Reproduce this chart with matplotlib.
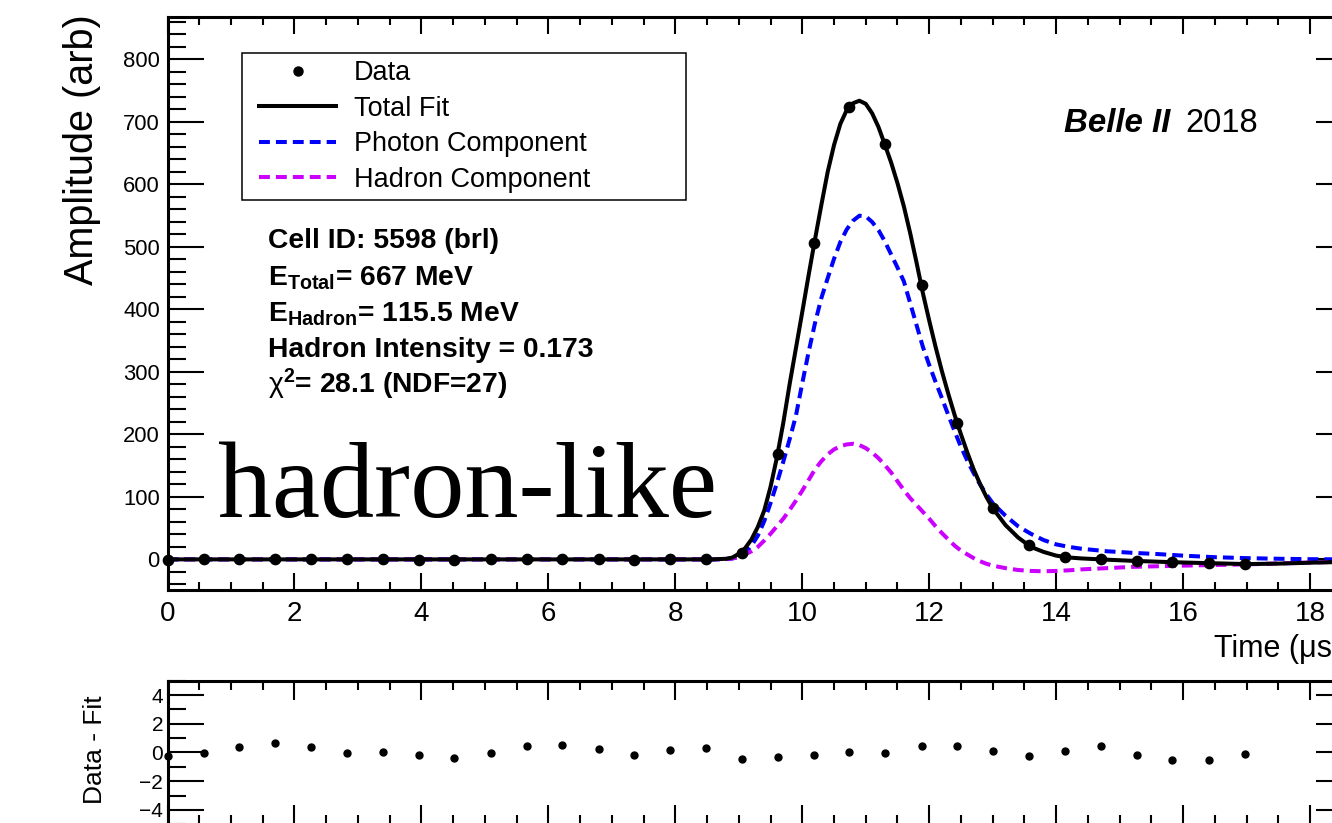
import matplotlib
matplotlib.use("Agg")
import matplotlib.pyplot as plt
from matplotlib.lines import Line2D
from matplotlib.legend_handler import HandlerLine2D
from matplotlib.ticker import MultipleLocator

# ---- waveform samples (time in microseconds, amplitude in arb. units) ----
sample_time = [0.00, 0.57, 1.13, 1.70, 2.26, 2.83, 3.39, 3.96, 4.52, 5.09,
               5.66, 6.22, 6.79, 7.35, 7.92, 8.48, 9.05, 9.61, 10.18, 10.74,
               11.31, 11.88, 12.44, 13.01, 13.57, 14.14, 14.70, 15.27, 15.83,
               16.40, 16.97]
sample_amp = [-0.3, -0.1, 0.4, 0.7, 0.4, 0.0, 0.0, -0.2, -0.4, 0.0,
              0.5, 0.5, 0.2, -0.2, 0.2, 0.3, 11.0, 168.0, 506.0, 724.0,
              664.0, 439.0, 218.0, 82.0, 23.0, 4.0, 0.0, -2.7, -4.8,
              -6.4, -7.5]
residual = [-0.28, -0.07, 0.35, 0.65, 0.35, -0.02, 0.02, -0.21, -0.40, -0.02,
            0.47, 0.54, 0.23, -0.21, 0.19, 0.28, -0.44, -0.35, -0.16, 0.00,
            -0.07, 0.47, 0.47, 0.07, -0.26, 0.12, 0.47, -0.16, -0.51, -0.51,
            -0.12]

# ---- fitted pulse shapes ----
fit_time = [0.0, 8.6, 8.8, 8.9, 9.0, 9.1, 9.2, 9.3, 9.4, 9.5, 9.6, 9.7, 9.8,
            9.9, 10.0, 10.1, 10.2, 10.3, 10.4, 10.5, 10.6, 10.7, 10.8, 10.9,
            11.0, 11.1, 11.2, 11.3, 11.4, 11.5, 11.6, 11.7, 11.8, 11.9, 12.0,
            12.1, 12.2, 12.3, 12.4, 12.5, 12.6, 12.7, 12.8, 12.9, 13.0, 13.2,
            13.4, 13.6, 13.8, 14.0, 14.2, 14.4, 14.6, 14.8, 15.2, 15.6, 16.0,
            16.5, 17.0, 17.5, 18.0, 18.66]
fit_total = [0, 0, 1, 3, 9, 18, 32, 52, 78, 116, 163, 218, 280,
             338, 396, 455, 512, 567, 620, 663, 697, 719, 730, 734,
             729, 714, 692, 664, 635, 602, 565, 522, 475, 426, 382,
             340, 301, 265, 231, 200, 171, 144, 121, 100, 82, 55,
             35, 20, 12, 6, 3, 1.5, 0.5, -0.5, -2.3, -3.7, -5.0,
             -6.3, -7.5, -6.8, -5.3, -3.8]
fit_photon = [0, 0, 0.5, 1.5, 4, 10, 22, 38, 61, 90, 122, 156, 192,
              230, 282, 332, 378, 418, 450, 481, 508, 528, 542, 550,
              549, 540, 527, 509, 488, 467, 445, 410, 375, 340, 311,
              284, 258, 231, 205, 180, 158, 138, 120, 104, 90, 70,
              53, 41, 31, 24, 20, 17, 15, 13, 10.5, 8.5, 6.0,
              3.5, 2.0, 1.0, 0.3, 0.0]
fit_hadron = [0, 0, 0.5, 1.5, 4, 8, 13, 20, 30, 41, 53, 65, 79,
              94, 110, 127, 144, 157, 168, 176, 181, 184, 185, 183,
              178, 171, 162, 151, 139, 125, 111, 98, 87, 76, 65,
              53, 42, 32, 22, 14, 8, 2, -3, -7, -10, -14,
              -17, -18.5, -19, -18.5, -17.5, -16, -15, -14, -12, -11, -10,
              -9, -8, -6.5, -5, -3.5]

x_range = (0.0, 18.66)
amp_range = (-49, 868)
res_range = (-5, 5)

info_lines = ["Cell ID: 5598 (brl)",
              r"$\mathbf{E_{Total}}$= 667 MeV",
              r"$\mathbf{E_{Hadron}}$= 115.5 MeV",
              "Hadron Intensity = 0.173",
              r"$\mathrm{\chi}^{\mathbf{2}}$= 28.1 (NDF=27)"]

# ---- style ----
plt.rcParams["font.family"] = ["Liberation Sans", "DejaVu Sans"]
plt.rcParams["mathtext.fontset"] = "custom"
plt.rcParams["mathtext.rm"] = "Liberation Sans"
plt.rcParams["mathtext.bf"] = "Liberation Sans:bold"
plt.rcParams["mathtext.it"] = "Liberation Sans:italic"

W, H = 1332, 823
fig = plt.figure(figsize=(W / 100, H / 100), dpi=100)


def fx(px):
    return px / W


def fy(py):
    return 1 - py / H


LEFT, RIGHT = 167.5, 1352.0
ax = fig.add_axes([fx(LEFT), fy(590), fx(RIGHT) - fx(LEFT), fy(17) - fy(590)])
rax = fig.add_axes([fx(LEFT), fy(824.2), fx(RIGHT) - fx(LEFT), fy(680.7) - fy(824.2)])

LW = 2.9
dash = (0, (2.7, 1.5))

ax.plot(fit_time, fit_photon, color="#0000ff", lw=LW, linestyle=dash, zorder=2)
ax.plot(fit_time, fit_hadron, color="#cc00ff", lw=LW, linestyle=dash, zorder=2)
ax.plot(fit_time, fit_total, color="black", lw=LW, zorder=3)
ax.plot(sample_time, sample_amp, "o", color="black", ms=7.4, zorder=4,
        clip_on=False)

ax.set_xlim(*x_range)
ax.set_ylim(*amp_range)

for a in (ax, rax):
    for s in a.spines.values():
        s.set_linewidth(2.2)
    a.xaxis.set_major_locator(MultipleLocator(2))
    a.xaxis.set_minor_locator(MultipleLocator(0.5))

ax.yaxis.set_major_locator(MultipleLocator(100))
ax.yaxis.set_minor_locator(MultipleLocator(20))
ax.tick_params(axis="x", which="major", direction="in", length=12, width=1.5,
               top=True, labelsize=20, pad=8)
ax.tick_params(axis="x", which="minor", direction="in", length=6, width=1.5,
               top=True)
ax.tick_params(axis="y", which="major", direction="in", length=26, width=1.5,
               right=True, labelsize=15.8, pad=5.5)
ax.tick_params(axis="y", which="minor", direction="in", length=13, width=1.5,
               right=True)

# residual panel
rax.plot(sample_time, residual, "o", color="black", ms=5, clip_on=False)
rax.set_xlim(*x_range)
rax.set_ylim(*res_range)
rax.yaxis.set_major_locator(MultipleLocator(2))
rax.yaxis.set_minor_locator(MultipleLocator(1))
rax.tick_params(axis="x", which="major", direction="in", length=14, width=1.5,
               top=True, labelbottom=False)
rax.tick_params(axis="x", which="minor", direction="in", length=6.7, width=1.5,
               top=True)
rax.tick_params(axis="y", which="major", direction="in", length=26, width=1.5,
               right=True, labelsize=15, pad=3.2)
rax.tick_params(axis="y", which="minor", direction="in", length=13, width=1.5,
               right=True)

# axis titles
fig.text(fx(82), fy(150), "Amplitude (arb)", rotation=90, ha="center",
         va="center", fontsize=28.5)
fig.text(fx(1214), fy(656.7), "Time (\u03bcs)", ha="left", va="baseline",
         fontsize=22)
fig.text(fx(95), fy(750), "Data - Fit", rotation=90, ha="center", va="center",
         fontsize=19)

# legend
handles = [
    Line2D([], [], marker="o", color="black", linestyle="none", ms=6.5),
    Line2D([], [], color="black", lw=LW),
    Line2D([], [], color="#0000ff", lw=LW, linestyle=dash),
    Line2D([], [], color="#cc00ff", lw=LW, linestyle=dash),
]
labels = ["Data", "Total Fit", "Photon Component", "Hadron Component"]
leg = ax.legend(handles, labels, loc="upper left",
                bbox_to_anchor=(fx(241.6), fy(198), fx(685.8) - fx(241.6),
                                fy(53.3) - fy(198)),
                bbox_transform=fig.transFigure, mode="expand",
                borderaxespad=0, fontsize=19.5, frameon=True, fancybox=False,
                edgecolor="black", framealpha=1, borderpad=0.26,
                handlelength=3.24, handletextpad=0.65, labelspacing=0.35,
                handler_map={Line2D: HandlerLine2D(xpad=0.383)})
leg.get_frame().set_linewidth(1.1)

# fit summary
baselines = [248.3, 285.0, 321.7, 356.7, 393.0]
for txt, b in zip(info_lines, baselines):
    fig.text(fx(268.5), fy(b), txt, ha="left", va="baseline", fontsize=20.3,
             fontweight="bold")

# experiment tag
fig.text(fx(1064), fy(131.7), "Belle II", ha="left", va="baseline",
         fontsize=23.8, fontweight="bold", fontstyle="italic")
fig.text(fx(1185), fy(131.7), "2018", ha="left", va="baseline", fontsize=23.5)

# classification label
fig.text(fx(218), fy(516.7), "hadron-like", ha="left", va="baseline",
         fontsize=78, family=["Liberation Serif", "DejaVu Serif"])

fig.savefig("out.png", dpi=100)
